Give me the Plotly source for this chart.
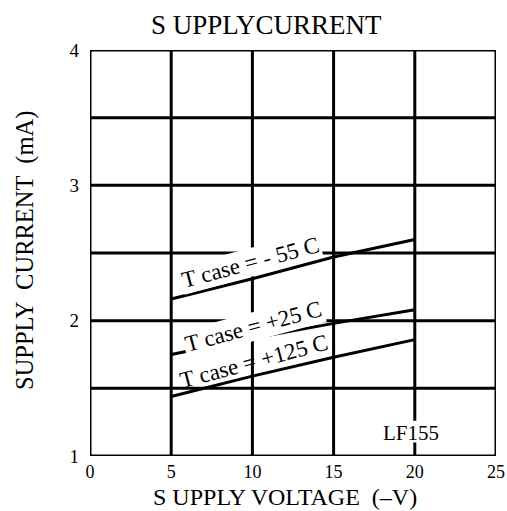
import plotly.graph_objects as go

# supply voltage (-V) and supply current (mA) for each case temperature
voltage = [5, 10, 15, 20]
current_m55 = [2.16, 2.31, 2.47, 2.60]
current_p25 = [1.75, 1.87, 1.98, 2.08]
current_p125 = [1.44, 1.59, 1.73, 1.86]

x_ticks = [0, 5, 10, 15, 20, 25]
y_ticks = [1, 2, 3, 4]
x_grid = [5, 10, 15]
y_grid = [1.5, 2, 2.5, 3, 3.5]

FONT = "Liberation Serif"
LW = 3

fig = go.Figure()

for cur in [current_m55, current_p25, current_p125]:
    fig.add_trace(go.Scatter(
        x=voltage, y=cur, mode="lines",
        line=dict(color="black", width=LW),
        showlegend=False, hoverinfo="skip"
    ))

shapes = []
for gx in x_grid:
    shapes.append(dict(type="line", x0=gx, x1=gx, y0=1, y1=4,
                       line=dict(color="black", width=LW), layer="below"))
for gy in y_grid:
    shapes.append(dict(type="line", x0=0, x1=25, y0=gy, y1=gy,
                       line=dict(color="black", width=LW), layer="below"))
# x=20 line is broken where the part number sits
shapes.append(dict(type="line", x0=20, x1=20, y0=1.26, y1=4,
                   line=dict(color="black", width=LW), layer="below"))
shapes.append(dict(type="line", x0=20, x1=20, y0=1, y1=1.1,
                   line=dict(color="black", width=LW), layer="below"))
shapes.append(dict(type="rect", x0=0, x1=25, y0=1, y1=4,
                   line=dict(color="black", width=LW)))

annotations = [
    dict(x=9.88, y=2.43, text="T case = - 55 C", textangle=-15, bgcolor="white",
         font=dict(size=23)),
    dict(x=10.07, y=1.96, text="T case = +25 C", textangle=-15, bgcolor="white",
         font=dict(size=23)),
    dict(x=10.07, y=1.70, text="T case = +125 C", textangle=-15,
         font=dict(size=23)),
    dict(x=19.77, y=1.17, text="LF155", font=dict(size=21)),
]
for a in annotations:
    a.update(xref="x", yref="y", showarrow=False)

# outer texts placed by pixel position (from top-left)
outer = [
    dict(x=266, y=25, text="S UPPLYCURRENT", font=dict(size=27)),
    dict(x=285, y=497, text="S UPPLY VOLTAGE  (–V)", font=dict(size=24)),
    dict(x=25, y=251, text="SUPPLY  CURRENT  (mA)", textangle=-90, font=dict(size=24.5)),
]
L, R, T, B = 90, 11, 50, 55
W, H = 507, 511
for a in outer:
    a["x"] = (a["x"] - L) / (W - L - R)
    a["y"] = (H - a["y"] - B) / (H - T - B)
    a.update(xref="paper", yref="paper", showarrow=False,
             xanchor="center", yanchor="middle")
annotations += outer

fig.update_layout(
    width=W, height=H, autosize=False,
    margin=dict(l=L, r=R, t=T, b=B),
    paper_bgcolor="white", plot_bgcolor="white",
    font=dict(family=FONT, color="black"),
    shapes=shapes, annotations=annotations,
    xaxis=dict(range=[0, 25], tickvals=x_ticks, showgrid=False, zeroline=False,
               showline=False, ticks="", tickfont=dict(size=18),
               ticklabelstandoff=3, automargin=False),
    yaxis=dict(range=[1, 4], tickvals=y_ticks, showgrid=False, zeroline=False,
               showline=False, ticks="", tickfont=dict(size=19),
               ticklabelstandoff=10, automargin=False),
)

fig.write_html("out.html", config={"displayModeBar": False},
               post_script="document.body.style.margin='0';")
